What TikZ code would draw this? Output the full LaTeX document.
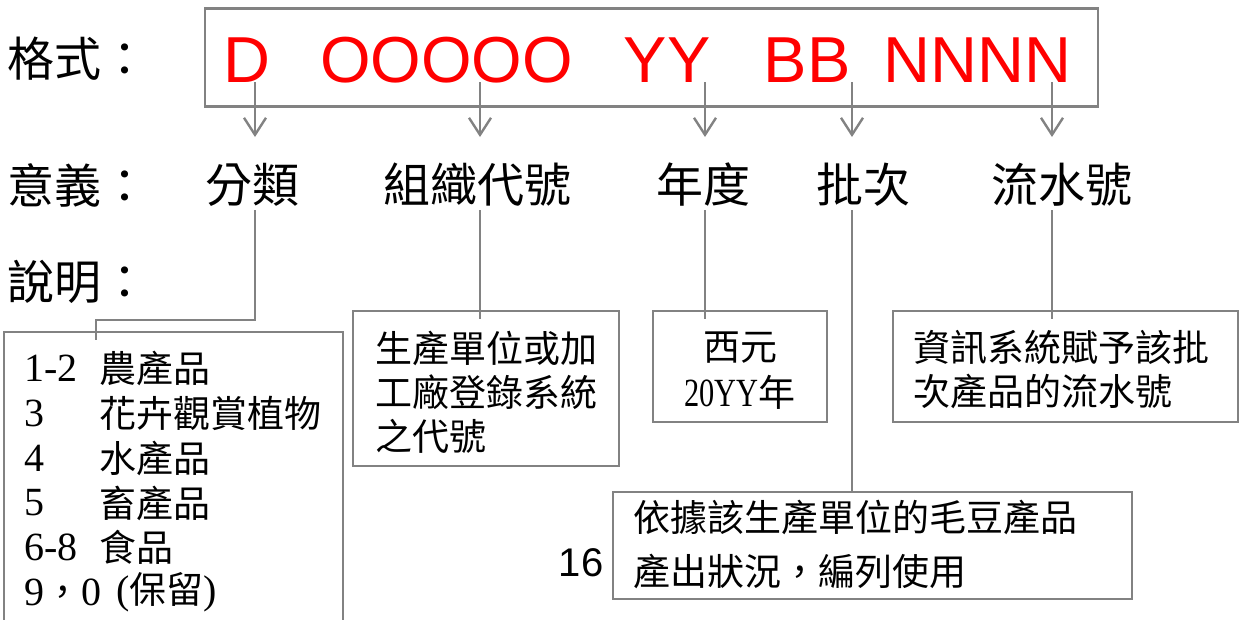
\documentclass[tikz,border=0pt]{standalone}
\usepackage{fontspec}
\usepackage{graphicx}
\setmainfont{Liberation Serif}
\newfontfamily\cjk{Noto Sans CJK TC}
\newfontfamily\arialf{Liberation Sans}
\newfontfamily\tmsf{Liberation Serif}
\usetikzlibrary{arrows.meta}
\definecolor{linegray}{RGB}{130,130,130}
\begin{document}
\begin{tikzpicture}[x=1pt,y=-1pt,
  every node/.style={inner sep=0pt, outer sep=0pt},
  lab/.style={font=\cjk\fontsize{47}{56}\selectfont},
  code/.style={font=\arialf\fontsize{65}{78}\selectfont, text=red, anchor=base},
  txt/.style={font=\cjk\fontsize{37}{44}\selectfont, anchor=west},
  num/.style={font=\tmsf\fontsize{40}{48}\selectfont, anchor=west},
  box/.style={draw=linegray, line width=2.2pt, rectangle},
  conn/.style={draw=linegray, line width=2.4pt},
  arr/.style={conn, -{Straight Barb[length=17pt,width=22pt]}}
]
\useasboundingbox (0,0) rectangle (1240,619);
\clip (0,0) rectangle (1240,619);

% top format box
\node[box, minimum width=893pt, minimum height=98pt] (fmt) at (651.5,57.5) {};
\node[code] (cD) at (247,82) {D};
\node[code] (cO) at (446.5,82) {OOOOO};
\node[code] (cY) at (667,82) {YY};
\node[code] (cB) at (807,82) {BB};
\node[code] (cN) at (977.5,82) {NNNN};

% row labels
\node[lab, anchor=west] (lfmt) at (8,58.5) {格式：};
\node[lab, anchor=west] (lmean) at (8,185) {意義：};
\node[lab, anchor=west] (ldesc) at (8,282) {說明：};

% meanings
\node[lab] (m1) at (252,185) {分類};
\node[lab] (m2) at (477.5,185) {組織代號};
\node[lab] (m3) at (703.5,185) {年度};
\node[lab] (m4) at (863.5,185) {批次};
\node[lab] (m5) at (1062,185) {流水號};

% connector points
\foreach \n/\x in {1/255,2/480,3/705,4/852,5/1052} {
  \coordinate (s\n) at (\x,82);
  \coordinate (e\n) at (\x,137);
  \coordinate (t\n) at (\x,210);
}

% arrows
\foreach \n in {1,...,5} { \draw[arr] (s\n) -- (e\n); }

% description boxes
\node[box, minimum width=339pt, minimum height=310pt] (b1) at (173.5,487) {};
\node[box, minimum width=266pt, minimum height=155pt] (b2) at (486,388.5) {};
\node[box, minimum width=174pt, minimum height=111pt] (b3) at (740,366.5) {};
\node[box, minimum width=519pt, minimum height=107pt] (b4) at (872.5,545.5) {};
\node[box, minimum width=345pt, minimum height=111pt] (b5) at (1065.5,366.5) {};

% connectors to boxes
\coordinate (k1) at (96,320);
\coordinate (k1e) at (96,340);
\draw[conn] (t1) |- (k1) -- (k1e);
\coordinate (k2) at (480,319);
\draw[conn] (t2) -- (k2);
\coordinate (k3) at (705,319);
\draw[conn] (t3) -- (k3);
\draw[conn] (t4) -- (b4.north -| t4);
\coordinate (k5) at (1052,319);
\draw[conn] (t5) -- (k5);

% box 1 text
\node[num] (n1) at (24,368) {1-2};
\node[txt] (x1) at (99,368) {農產品};
\node[num] (n2) at (24,413) {3};
\node[txt] (x2) at (99,413) {花卉觀賞植物};
\node[num] (n3) at (24,458) {4};
\node[txt] (x3) at (99,458) {水產品};
\node[num] (n4) at (24,503) {5};
\node[txt] (x4) at (99,503) {畜產品};
\node[num] (n5) at (24,547) {6-8};
\node[txt] (x5) at (99,547) {食品};
\node[num] (n6) at (24,592) {9{\cjk\fontsize{37}{44}\selectfont ，}0};
\node[num] (n6b) at (116,592) {({\cjk\fontsize{37}{44}\selectfont 保留})};

% box 2 text
\node[txt] (y1) at (375,348) {生產單位或加};
\node[txt] (y2) at (375,392) {工廠登錄系統};
\node[txt] (y3) at (375,436) {之代號};

% box 3 text
\node[txt, anchor=center] (z1) at (740,347.5) {西元};
\node[txt, anchor=center] (z2) at (740,392) {{\tmsf\fontsize{40}{48}\selectfont\scalebox{0.76}[1]{20YY}}年};

% box 5 text
\node[txt] (w1) at (913,347.5) {資訊系統賦予該批};
\node[txt] (w2) at (913,391) {次產品的流水號};

% box 4 text
\node[txt] (v1) at (633,517) {依據該生產單位的毛豆產品};
\node[txt] (v2) at (633,571) {產出狀況，編列使用};

% page number
\node[font=\arialf\fontsize{40}{48}\selectfont] (pg) at (581,563) {16};
\end{tikzpicture}
\end{document}
